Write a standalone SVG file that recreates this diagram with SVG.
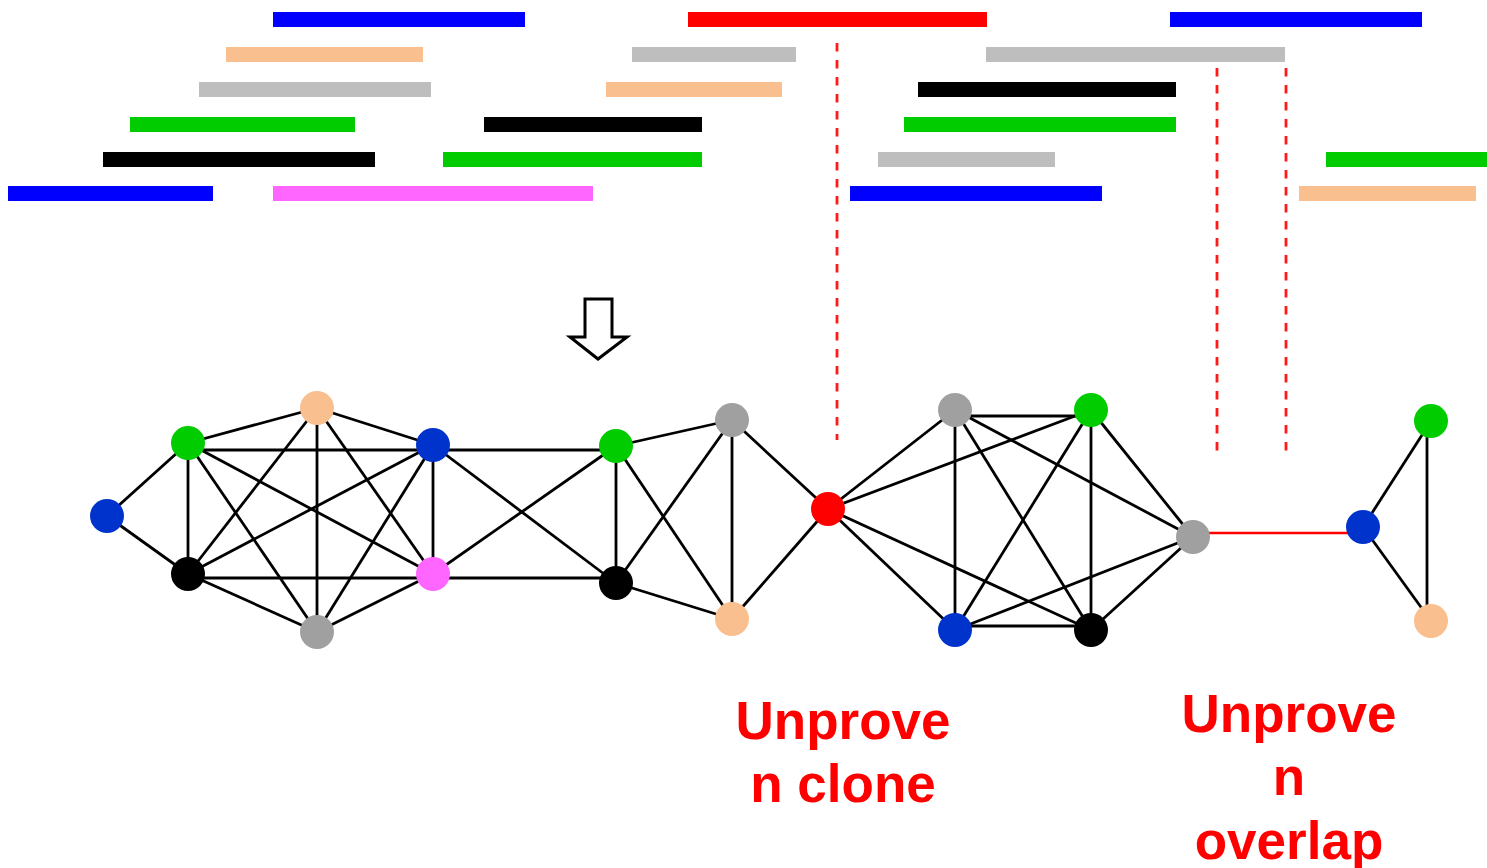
<svg xmlns="http://www.w3.org/2000/svg" width="1487" height="868" viewBox="0 0 1487 868">
  <style>
    .bar { stroke: none; }
    .edge { stroke: #000; stroke-width: 2.8; fill: none; }
    .weak { stroke: #ff0000; stroke-width: 2.6; fill: none; }
    .cut { stroke: #ff1a1a; stroke-width: 2.8; stroke-dasharray: 8.5 8.5; fill: none; }
    .lbl { font-family: "Liberation Sans", Arial, sans-serif; font-weight: bold; font-size: 53px; fill: #ff0000; text-anchor: middle; }
    .arrow { fill: #fff; stroke: #000; stroke-width: 3; stroke-linejoin: miter; }
  </style>

  <!-- clone fragments -->
  <g id="fragments">
    <!-- row 1 -->
    <rect class="bar" x="273" y="12" width="252" height="15" fill="#0000ff"/>
    <rect class="bar" x="688" y="12" width="299" height="15" fill="#ff0000"/>
    <rect class="bar" x="1170" y="12" width="252" height="15" fill="#0000ff"/>
    <!-- row 2 -->
    <rect class="bar" x="226" y="47" width="197" height="15" fill="#f9bf8f"/>
    <rect class="bar" x="632" y="47" width="164" height="15" fill="#bebebe"/>
    <rect class="bar" x="986" y="47" width="299" height="15" fill="#bebebe"/>
    <!-- row 3 -->
    <rect class="bar" x="199" y="82" width="232" height="15" fill="#bebebe"/>
    <rect class="bar" x="606" y="82" width="176" height="15" fill="#f9bf8f"/>
    <rect class="bar" x="918" y="82" width="258" height="15" fill="#000000"/>
    <!-- row 4 -->
    <rect class="bar" x="130" y="117" width="225" height="15" fill="#00cc00"/>
    <rect class="bar" x="484" y="117" width="218" height="15" fill="#000000"/>
    <rect class="bar" x="904" y="117" width="272" height="15" fill="#00cc00"/>
    <!-- row 5 -->
    <rect class="bar" x="103" y="152" width="272" height="15" fill="#000000"/>
    <rect class="bar" x="443" y="152" width="259" height="15" fill="#00cc00"/>
    <rect class="bar" x="878" y="152" width="177" height="15" fill="#bebebe"/>
    <rect class="bar" x="1326" y="152" width="161" height="15" fill="#00cc00"/>
    <!-- row 6 -->
    <rect class="bar" x="8" y="186" width="205" height="15" fill="#0000ff"/>
    <rect class="bar" x="273" y="186" width="320" height="15" fill="#ff66ff"/>
    <rect class="bar" x="850" y="186" width="252" height="15" fill="#0000ff"/>
    <rect class="bar" x="1299" y="186" width="177" height="15" fill="#f9bf8f"/>
  </g>

  <!-- dashed cut markers -->
  <g id="cuts">
    <line class="cut" x1="837" y1="43" x2="837" y2="440"/>
    <line class="cut" x1="1217" y1="68" x2="1217" y2="451"/>
    <line class="cut" x1="1286" y1="68" x2="1286" y2="451"/>
  </g>

  <!-- hollow down arrow -->
  <g id="arrow">
    <polygon class="arrow" points="585,299 612,299 612,337 627,337 598,359 570,337 585,337"/>
  </g>

  <!-- connectors -->
  <g id="connectors">
    <!-- left cluster: complete graph on six nodes, plus the blue leaf -->
    <line class="edge" x1="107" y1="516" x2="188" y2="443"/>
    <line class="edge" x1="107" y1="516" x2="188" y2="574"/>
    <line class="edge" x1="188" y1="443" x2="317" y2="408"/>
    <line class="edge" x1="188" y1="450" x2="616" y2="450"/>
    <line class="edge" x1="188" y1="443" x2="188" y2="574"/>
    <line class="edge" x1="188" y1="443" x2="317" y2="632"/>
    <line class="edge" x1="188" y1="443" x2="433" y2="574"/>
    <line class="edge" x1="317" y1="408" x2="433" y2="445"/>
    <line class="edge" x1="317" y1="408" x2="188" y2="574"/>
    <line class="edge" x1="317" y1="408" x2="317" y2="632"/>
    <line class="edge" x1="317" y1="408" x2="433" y2="574"/>
    <line class="edge" x1="433" y1="445" x2="188" y2="574"/>
    <line class="edge" x1="433" y1="445" x2="317" y2="632"/>
    <line class="edge" x1="433" y1="445" x2="433" y2="574"/>
    <line class="edge" x1="188" y1="578" x2="616" y2="578"/>
    <line class="edge" x1="188" y1="574" x2="317" y2="632"/>
    <line class="edge" x1="317" y1="632" x2="433" y2="574"/>
    <!-- bridge to the middle cluster -->
    <line class="edge" x1="433" y1="445" x2="616" y2="583"/>
    <line class="edge" x1="433" y1="574" x2="616" y2="446"/>
    <!-- middle cluster -->
    <line class="edge" x1="616" y1="446" x2="616" y2="583"/>
    <line class="edge" x1="616" y1="446" x2="732" y2="420"/>
    <line class="edge" x1="616" y1="446" x2="732" y2="619"/>
    <line class="edge" x1="616" y1="583" x2="732" y2="420"/>
    <line class="edge" x1="616" y1="583" x2="732" y2="619"/>
    <line class="edge" x1="732" y1="420" x2="732" y2="619"/>
    <line class="edge" x1="732" y1="420" x2="828" y2="509"/>
    <line class="edge" x1="732" y1="619" x2="828" y2="509"/>
    <!-- right cluster -->
    <line class="edge" x1="828" y1="509" x2="955" y2="410"/>
    <line class="edge" x1="828" y1="509" x2="1091" y2="410"/>
    <line class="edge" x1="828" y1="509" x2="955" y2="630"/>
    <line class="edge" x1="828" y1="509" x2="1091" y2="630"/>
    <line class="edge" x1="955" y1="416" x2="1091" y2="416"/>
    <line class="edge" x1="955" y1="410" x2="955" y2="630"/>
    <line class="edge" x1="955" y1="410" x2="1091" y2="630"/>
    <line class="edge" x1="955" y1="410" x2="1193" y2="537"/>
    <line class="edge" x1="1091" y1="410" x2="955" y2="630"/>
    <line class="edge" x1="1091" y1="410" x2="1091" y2="630"/>
    <line class="edge" x1="1091" y1="410" x2="1193" y2="537"/>
    <line class="edge" x1="955" y1="626" x2="1091" y2="626"/>
    <line class="edge" x1="955" y1="630" x2="1193" y2="537"/>
    <line class="edge" x1="1091" y1="630" x2="1193" y2="537"/>
    <!-- unproven overlap -->
    <line class="weak" x1="1193" y1="533" x2="1363" y2="533"/>
    <!-- small triangle -->
    <line class="edge" x1="1363" y1="527" x2="1431" y2="421"/>
    <line class="edge" x1="1363" y1="527" x2="1431" y2="621"/>
    <line class="edge" x1="1427" y1="421" x2="1427" y2="621"/>
  </g>

  <!-- nodes -->
  <g id="n-a"><circle cx="107" cy="516" r="17" fill="#0033cc"/></g>
  <g id="n-b"><circle cx="188" cy="443" r="17" fill="#00cc00"/></g>
  <g id="n-c"><circle cx="317" cy="408" r="17" fill="#f9bf8f"/></g>
  <g id="n-d"><circle cx="433" cy="445" r="17" fill="#0033cc"/></g>
  <g id="n-e"><circle cx="188" cy="574" r="17" fill="#000000"/></g>
  <g id="n-f"><circle cx="317" cy="632" r="17" fill="#a0a0a0"/></g>
  <g id="n-g"><circle cx="433" cy="574" r="17" fill="#ff66ff"/></g>
  <g id="n-h"><circle cx="616" cy="446" r="17" fill="#00cc00"/></g>
  <g id="n-i"><circle cx="616" cy="583" r="17" fill="#000000"/></g>
  <g id="n-j"><circle cx="732" cy="420" r="17" fill="#a0a0a0"/></g>
  <g id="n-k"><circle cx="732" cy="619" r="17" fill="#f9bf8f"/></g>
  <g id="n-l"><circle cx="828" cy="509" r="17" fill="#ff0000"/></g>
  <g id="n-m"><circle cx="955" cy="410" r="17" fill="#a0a0a0"/></g>
  <g id="n-n"><circle cx="1091" cy="410" r="17" fill="#00cc00"/></g>
  <g id="n-o"><circle cx="955" cy="630" r="17" fill="#0033cc"/></g>
  <g id="n-p"><circle cx="1091" cy="630" r="17" fill="#000000"/></g>
  <g id="n-q"><circle cx="1193" cy="537" r="17" fill="#a0a0a0"/></g>
  <g id="n-r"><circle cx="1363" cy="527" r="17" fill="#0033cc"/></g>
  <g id="n-s"><circle cx="1431" cy="421" r="17" fill="#00cc00"/></g>
  <g id="n-t"><circle cx="1431" cy="621" r="17" fill="#f9bf8f"/></g>

  <!-- labels -->
  <g id="label-clone">
    <text class="lbl" x="843" y="739">Unprove</text>
    <text class="lbl" x="843" y="802">n clone</text>
  </g>
  <g id="label-overlap">
    <text class="lbl" x="1289" y="732">Unprove</text>
    <text class="lbl" x="1289" y="795">n</text>
    <text class="lbl" x="1289" y="859">overlap</text>
  </g>
</svg>
